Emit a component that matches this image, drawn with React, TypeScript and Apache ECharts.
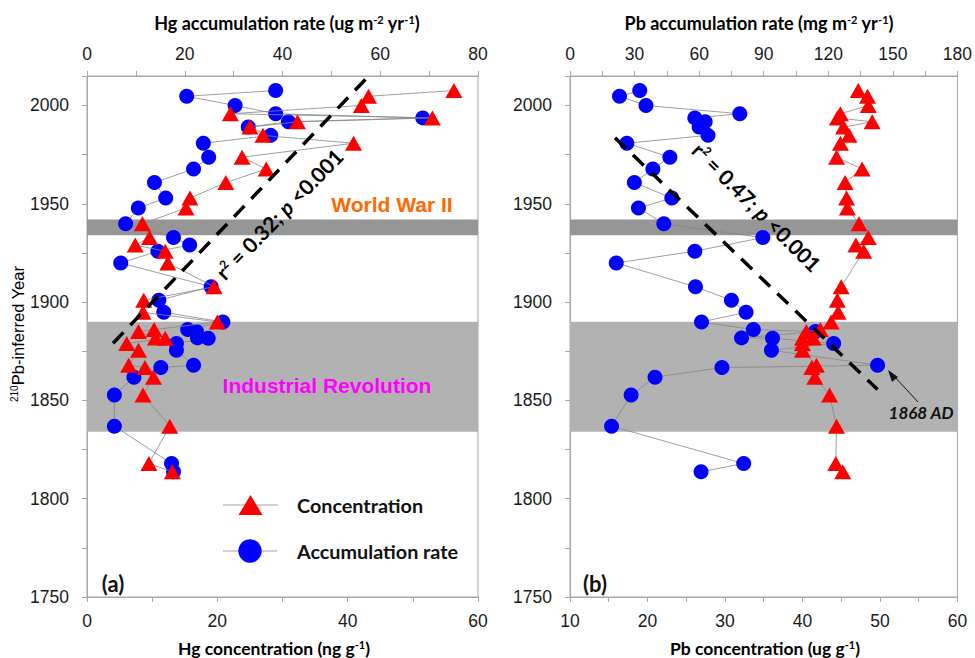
import React, { useEffect, useRef } from "react";
import * as echarts from "echarts";

// Sample years (shared core depths, 210Pb-inferred)
const years = [
  2007.6, 2004.7, 2000.0, 1995.8, 1993.7, 1991.7, 1989.0, 1984.8, 1980.8, 1973.7,
  1967.7, 1960.8, 1952.9, 1947.9, 1939.8, 1932.8, 1929.0, 1925.9, 1919.9, 1907.8,
  1900.9, 1894.8, 1889.9, 1886.0, 1885.0, 1881.8, 1881.6, 1879.0, 1875.5, 1867.9,
  1866.7, 1861.8, 1852.7, 1836.9, 1817.9, 1813.7,
];

// Hg concentration (ng g-1)
const hgConc = [
  56.3, 43.2, 42.1, 22.0, 53.0, 32.3, 25.0, 27.0, 40.9, 23.8,
  27.5, 21.3, 15.8, 15.2, 8.5, 9.6, 7.4, 12.0, 12.4, 19.5,
  8.7, 8.6, 20.0, 10.3, 7.9, 10.5, 12.0, 6.1, 7.9, 6.4,
  8.9, 10.2, 8.6, 12.7, 9.5, 13.1,
];

// Hg accumulation rate (ug m-2 yr-1)
const hgAcc = [
  38.6, 20.4, 30.3, 38.6, 68.7, 41.2, 33.0, 37.6, 23.8, 24.9,
  21.8, 13.8, 16.1, 10.5, 7.9, 17.7, 21.0, 14.5, 6.9, 25.4,
  14.7, 15.7, 27.8, 20.6, 22.4, 22.6, 24.8, 18.3, 18.3, 21.8,
  15.1, 9.6, 5.6, 5.6, 17.3, 17.7,
];

// Pb concentration (ug g-1)
const pbConc = [
  47.2, 48.4, 48.5, 44.9, 44.5, 49.0, 45.3, 46.0, 44.9, 44.4,
  47.7, 45.5, 45.7, 45.8, 47.3, 48.5, 46.9, 47.9, null, 45.0,
  44.5, 44.6, 43.7, 42.3, 40.5, 41.4, 40.0, 40.0, 40.0, 41.8,
  41.2, 41.6, 43.5, 44.4, 44.3, 45.2,
];

// Pb accumulation rate (mg m-2 yr-1)
const pbAcc = [
  32.4, 23.0, 35.3, 78.9, 58.0, 62.8, 60.0, 64.1, 26.4, 46.4,
  38.5, 29.9, 47.3, 31.8, 43.6, 89.6, null, 58.0, 21.5, 58.3,
  75.0, 81.8, 61.1, 85.2, 114.0, 79.7, 94.1, 122.5, 93.6, 142.9,
  70.6, 39.5, 28.4, 19.3, 80.7, 60.9,
];

// Regression lines (concentration vs year)
const hgFitX = [4.0, 43.0];
const hgFitY = [1879.1, 2014.2];
const pbFitX = [15.8, 49.7];
const pbFitY = [1983.6, 1855.5];

// Historical periods
const industrialRevolution = [1834, 1890];
const worldWar2 = [1934, 1942];

const yearMin = 1750;
const yearMax = 2015;

const AXIS_FONT = "'Liberation Sans', Arial, sans-serif";
const TITLE_FONT = "Lato, 'Open Sans', sans-serif";
const AXIS_COLOR = "#a6a6a6";

function pairs(vals: (number | null)[]) {
  const out: [number, number][] = [];
  vals.forEach((v, i) => {
    if (v !== null && v !== undefined) out.push([v, years[i]]);
  });
  return out;
}

function xAxisCfg(grid: number, pos: "top" | "bottom", min: number, max: number, interval: number, labelEvery: number) {
  return {
    type: "value",
    gridIndex: grid,
    position: pos,
    min,
    max,
    interval,
    splitLine: { show: false },
    axisLine: { show: true, onZero: false, lineStyle: { color: AXIS_COLOR, width: 1 } },
    axisTick: { show: true, length: 5, lineStyle: { color: AXIS_COLOR } },
    axisLabel: {
      show: true,
      margin: pos === "top" ? 13 : 15,
      fontSize: 17.5,
      fontFamily: AXIS_FONT,
      color: "#1a1a1a",
      showMaxLabel: true,
      showMinLabel: true,
      formatter: (v: number) => (Math.abs((v - min) % labelEvery) < 1e-6 || Math.abs(v % labelEvery) < 1e-6 ? String(v) : ""),
    },
  };
}

function yAxisCfg(grid: number) {
  return {
    type: "value",
    gridIndex: grid,
    min: yearMin,
    max: yearMax,
    interval: 25,
    splitLine: { show: false },
    axisLine: { show: true, lineStyle: { color: AXIS_COLOR } },
    axisTick: { show: true, length: 5, lineStyle: { color: AXIS_COLOR } },
    axisLabel: {
      margin: 18,
      fontSize: 17.5,
      fontFamily: AXIS_FONT,
      color: "#1a1a1a",
      formatter: (v: number) => (v % 50 === 0 && v <= 2000 ? String(v) : ""),
    },
  };
}

function bandSeries(xi: number, yi: number) {
  return {
    type: "line",
    xAxisIndex: xi,
    yAxisIndex: yi,
    data: [],
    silent: true,
    z: 1,
    markArea: {
      silent: true,
      data: [
        [
          { yAxis: industrialRevolution[0], itemStyle: { color: "#b2b2b2" } },
          { yAxis: industrialRevolution[1] },
        ],
        [
          { yAxis: worldWar2[0], itemStyle: { color: "#969696" } },
          { yAxis: worldWar2[1] },
        ],
      ],
    },
  };
}

function dataSeries(name: string, xi: number, yi: number, vals: (number | null)[], kind: "acc" | "conc") {
  return {
    type: "line",
    name,
    xAxisIndex: xi,
    yAxisIndex: yi,
    data: pairs(vals),
    symbol: kind === "acc" ? "circle" : "triangle",
    symbolSize: kind === "acc" ? 15 : [17, 15],
    itemStyle: { color: kind === "acc" ? "#0000ff" : "#ff0000" },
    lineStyle: { color: "#858585", width: 0.8 },
    z: kind === "acc" ? 3 : 4,
    silent: true,
  };
}

function fitSeries(xi: number, yi: number, xs: number[], ys: number[]) {
  return {
    type: "line",
    xAxisIndex: xi,
    yAxisIndex: yi,
    data: xs.map((x, i) => [x, ys[i]]),
    symbol: "none",
    lineStyle: { color: "#000", width: 3.5, type: [15, 10] },
    z: 5,
    silent: true,
  };
}

function makeRich(size: number, sup: number) {
  return {
    b: { fontSize: size, fontWeight: "bold", fontFamily: TITLE_FONT, color: "#111" },
    s: { fontSize: sup, fontWeight: "bold", fontFamily: TITLE_FONT, color: "#111", verticalAlign: "top" },
  };
}

function titleText(x: number, y: number, text: string, size: number) {
  return {
    type: "text",
    x,
    y,
    z: 100,
    style: { text, align: "center", verticalAlign: "middle", rich: makeRich(size, Math.round(size * 0.6)) },
  };
}

const statRich = {
  n: { fontSize: 21, fontWeight: "bold", fontFamily: TITLE_FONT, color: "#000" },
  i: { fontSize: 21, fontWeight: "bold", fontStyle: "italic", fontFamily: TITLE_FONT, color: "#000" },
  s: { fontSize: 12, fontWeight: "bold", fontFamily: TITLE_FONT, color: "#000", verticalAlign: "top" },
};

export default function App() {
  const ref = useRef<HTMLDivElement>(null);

  useEffect(() => {
    if (!ref.current) return;
    const chart = echarts.init(ref.current, null, { renderer: "svg" });

    const option = {
      animation: false,
      backgroundColor: "#ffffff",
      grid: [
        { left: 87, top: 76, width: 391, height: 521, show: true, borderColor: AXIS_COLOR, borderWidth: 1, backgroundColor: "transparent" },
        { left: 570, top: 76, width: 390, height: 521, show: true, borderColor: AXIS_COLOR, borderWidth: 1, backgroundColor: "transparent" },
      ],
      xAxis: [
        xAxisCfg(0, "bottom", 0, 60, 10, 20),
        xAxisCfg(0, "top", 0, 80, 10, 20),
        xAxisCfg(1, "bottom", 10, 60, 5, 10),
        xAxisCfg(1, "top", 0, 180, 15, 30),
      ],
      yAxis: [yAxisCfg(0), yAxisCfg(1)],
      series: [
        bandSeries(0, 0),
        bandSeries(2, 1),
        dataSeries("Accumulation rate", 1, 0, hgAcc, "acc"),
        dataSeries("Concentration", 0, 0, hgConc, "conc"),
        dataSeries("Accumulation rate", 3, 1, pbAcc, "acc"),
        dataSeries("Concentration", 2, 1, pbConc, "conc"),
        fitSeries(0, 0, hgFitX, hgFitY),
        fitSeries(2, 1, pbFitX, pbFitY),
      ],
      graphic: [
        titleText(287, 23, "{b|Hg accumulation rate (ug m}{s|-2}{b| yr}{s|-1}{b|)}", 18),
        titleText(759, 23, "{b|Pb accumulation rate (mg m}{s|-2}{b| yr}{s|-1}{b|)}", 18),
        titleText(274, 648, "{b|Hg concentration (ng g}{s|-1}{b|)}", 17.5),
        titleText(765, 648, "{b|Pb concentration (ug g}{s|-1}{b|)}", 17.5),
        {
          type: "text",
          x: 18,
          y: 334,
          rotation: Math.PI / 2,
          z: 100,
          style: {
            text: "{s|210}{b|Pb-inferred Year}",
            align: "center",
            verticalAlign: "middle",
            rich: {
              b: { fontSize: 16.5, fontFamily: AXIS_FONT, color: "#111" },
              s: { fontSize: 10, fontFamily: AXIS_FONT, color: "#111", verticalAlign: "top" },
            },
          },
        },
        {
          type: "text",
          x: 392,
          y: 204,
          z: 100,
          style: { text: "World War II", align: "center", verticalAlign: "middle", fill: "#ff6a00", fontSize: 21, fontWeight: "bold", fontFamily: AXIS_FONT },
        },
        {
          type: "text",
          x: 327,
          y: 385,
          z: 100,
          style: { text: "Industrial Revolution", align: "center", verticalAlign: "middle", fill: "#ff00ff", fontSize: 21, fontWeight: "bold", fontFamily: AXIS_FONT },
        },
        {
          type: "text",
          x: 279,
          y: 214,
          rotation: 0.8,
          z: 100,
          style: { text: "{n|r}{s|2}{n| = 0.32; }{i|p}{n| <0.001}", align: "center", verticalAlign: "middle", rich: statRich },
        },
        {
          type: "text",
          x: 757,
          y: 207,
          rotation: -0.785,
          z: 100,
          style: { text: "{n|r}{s|2}{n| = 0.47; }{i|p}{n| <0.001}", align: "center", verticalAlign: "middle", rich: statRich },
        },
        {
          type: "text",
          x: 921,
          y: 412,
          z: 100,
          style: { text: "1868 AD", align: "center", verticalAlign: "middle", fill: "#111", fontSize: 17, fontWeight: "bold", fontStyle: "italic", fontFamily: TITLE_FONT },
        },
        {
          type: "line",
          z: 100,
          shape: { x1: 918, y1: 402, x2: 893, y2: 375 },
          style: { stroke: "#111", lineWidth: 1 },
        },
        {
          type: "polygon",
          z: 100,
          shape: { points: [[888, 370], [898, 377], [892, 382]] },
          style: { fill: "#111" },
        },
        { type: "text", x: 113, y: 583, z: 100, style: { text: "(a)", align: "center", verticalAlign: "middle", fill: "#111", fontSize: 22, fontWeight: "bold", fontFamily: TITLE_FONT } },
        { type: "text", x: 595, y: 583, z: 100, style: { text: "(b)", align: "center", verticalAlign: "middle", fill: "#111", fontSize: 22, fontWeight: "bold", fontFamily: TITLE_FONT } },
        // legend
        { type: "line", z: 100, shape: { x1: 223, y1: 505, x2: 278, y2: 505 }, style: { stroke: "#a0a0a0", lineWidth: 1 } },
        { type: "polygon", z: 101, shape: { points: [[250.5, 495], [262.5, 515], [238.5, 515]] }, style: { fill: "#ff0000" } },
        { type: "text", x: 297, y: 505, z: 100, style: { text: "Concentration", align: "left", verticalAlign: "middle", fill: "#111", fontSize: 19.8, fontWeight: "bold", fontFamily: TITLE_FONT } },
        { type: "line", z: 100, shape: { x1: 223, y1: 551, x2: 277, y2: 551 }, style: { stroke: "#a0a0a0", lineWidth: 1 } },
        { type: "circle", z: 101, shape: { cx: 250, cy: 551, r: 11.7 }, style: { fill: "#0000ff" } },
        { type: "text", x: 297, y: 551, z: 100, style: { text: "Accumulation rate", align: "left", verticalAlign: "middle", fill: "#111", fontSize: 19.8, fontWeight: "bold", fontFamily: TITLE_FONT } },
      ],
    };

    chart.setOption(option as any);
    return () => chart.dispose();
  }, []);

  return <div ref={ref} style={{ position: "fixed", left: 0, top: 0, width: 975, height: 658, background: "#fff" }} />;
}
